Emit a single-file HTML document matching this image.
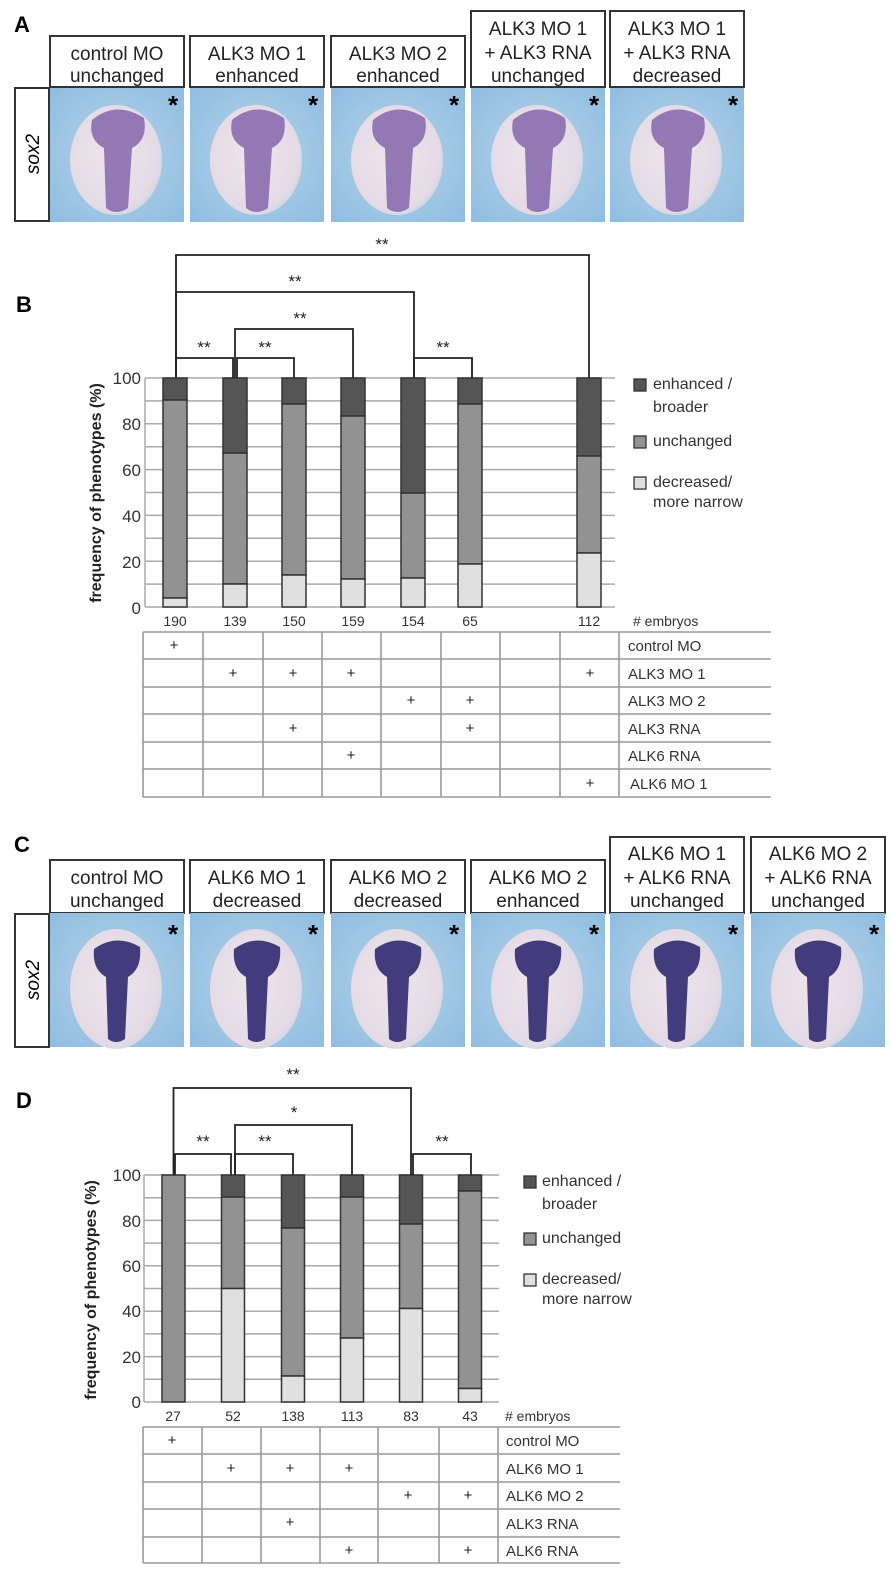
<!DOCTYPE html>
<html><head><meta charset="utf-8"><style>
html,body{margin:0;padding:0;background:#fff;}
svg{display:block;}
text{font-family:"Liberation Sans",Arial,sans-serif;}
</style></head><body>
<svg width="894" height="1580" viewBox="0 0 894 1580" xmlns="http://www.w3.org/2000/svg">
<defs>
<radialGradient id="bg" cx="0.5" cy="0.5" r="0.7">
<stop offset="0" stop-color="#b6d3ea"/><stop offset="1" stop-color="#8fbde0"/></radialGradient>
<radialGradient id="egg" cx="0.45" cy="0.45" r="0.6">
<stop offset="0" stop-color="#efe4ea"/><stop offset="0.85" stop-color="#e4dbe6"/><stop offset="1" stop-color="#cdd6e6"/></radialGradient>
<g id="embA">
<rect x="0" y="0" width="134" height="134" fill="url(#bg)"/>
<ellipse cx="66" cy="72" rx="46" ry="55" fill="url(#egg)"/>
<path d="M42 32 Q66 12 94 30 Q98 52 82 60 L78 120 Q66 128 56 120 L54 60 Q38 52 42 32Z" fill="#8466ab" opacity="0.85"/>
<text x="118" y="26" font-size="26" font-weight="bold" fill="#000">*</text>
</g>
<g id="embC">
<rect x="0" y="0" width="134" height="134" fill="url(#bg)"/>
<ellipse cx="66" cy="76" rx="46" ry="60" fill="url(#egg)"/>
<path d="M44 36 Q66 20 90 34 Q92 56 78 64 L75 126 Q66 132 58 126 L56 64 Q42 56 44 36Z" fill="#433c7c"/>
<text x="118" y="30" font-size="26" font-weight="bold" fill="#000">*</text>
</g>
</defs>

<!-- Panel A -->
<text x="14" y="32" font-size="22" font-weight="bold">A</text>
<g fill="#fff" stroke="#333" stroke-width="2">
<rect x="50" y="36" width="134" height="51"/>
<rect x="190" y="36" width="134" height="51"/>
<rect x="331" y="36" width="134" height="51"/>
<rect x="471" y="11" width="134" height="76"/>
<rect x="610" y="11" width="134" height="76"/>
<rect x="15" y="88" width="34" height="133"/>
</g>
<g font-size="19" text-anchor="middle" fill="#222">
<text x="117" y="60">control MO</text><text x="117" y="82">unchanged</text>
<text x="257" y="60">ALK3 MO 1</text><text x="257" y="82">enhanced</text>
<text x="398" y="60">ALK3 MO 2</text><text x="398" y="82">enhanced</text>
<text x="538" y="35">ALK3 MO 1</text><text x="538" y="59">+ ALK3 RNA</text><text x="538" y="82">unchanged</text>
<text x="677" y="35">ALK3 MO 1</text><text x="677" y="59">+ ALK3 RNA</text><text x="677" y="82">decreased</text>
</g>
<text transform="translate(39,154) rotate(-90)" font-size="19" font-style="italic" text-anchor="middle">sox2</text>
<use href="#embA" x="50" y="88"/>
<use href="#embA" x="190" y="88"/>
<use href="#embA" x="331" y="88"/>
<use href="#embA" x="471" y="88"/>
<use href="#embA" x="610" y="88"/>

<!-- Panel B -->
<text x="16" y="312" font-size="22" font-weight="bold">B</text>
<g stroke="#aaa" stroke-width="1.5">
<line x1="145" x2="615" y1="378" y2="378"/><line x1="145" x2="615" y1="400.9" y2="400.9"/>
<line x1="145" x2="615" y1="423.8" y2="423.8"/><line x1="145" x2="615" y1="446.7" y2="446.7"/>
<line x1="145" x2="615" y1="469.6" y2="469.6"/><line x1="145" x2="615" y1="492.5" y2="492.5"/>
<line x1="145" x2="615" y1="515.4" y2="515.4"/><line x1="145" x2="615" y1="538.3" y2="538.3"/>
<line x1="145" x2="615" y1="561.2" y2="561.2"/><line x1="145" x2="615" y1="584.1" y2="584.1"/>
<line x1="145" x2="615" y1="607" y2="607"/>
<line x1="145" x2="145" y1="378" y2="607"/>
</g>
<g font-size="17" text-anchor="end" fill="#333">
<text x="141" y="384">100</text><text x="141" y="430">80</text><text x="141" y="476">60</text>
<text x="141" y="522">40</text><text x="141" y="568">20</text><text x="141" y="614">0</text>
</g>
<text transform="translate(101,493) rotate(-90)" font-size="16" font-weight="bold" text-anchor="middle" fill="#222">frequency of phenotypes (%)</text>
<g stroke="#333" stroke-width="1.5">
<rect x="163" y="378" width="24" height="22" fill="#555"/>
<rect x="163" y="400" width="24" height="198" fill="#929292"/>
<rect x="163" y="598" width="24" height="9" fill="#e0e0e0"/>
<rect x="223" y="378" width="24" height="75" fill="#555"/>
<rect x="223" y="453" width="24" height="131" fill="#929292"/>
<rect x="223" y="584" width="24" height="23" fill="#e0e0e0"/>
<rect x="282" y="378" width="24" height="26" fill="#555"/>
<rect x="282" y="404" width="24" height="171" fill="#929292"/>
<rect x="282" y="575" width="24" height="32" fill="#e0e0e0"/>
<rect x="341" y="378" width="24" height="38" fill="#555"/>
<rect x="341" y="416" width="24" height="163" fill="#929292"/>
<rect x="341" y="579" width="24" height="28" fill="#e0e0e0"/>
<rect x="401" y="378" width="24" height="115" fill="#555"/>
<rect x="401" y="493" width="24" height="85" fill="#929292"/>
<rect x="401" y="578" width="24" height="29" fill="#e0e0e0"/>
<rect x="458" y="378" width="24" height="26" fill="#555"/>
<rect x="458" y="404" width="24" height="160" fill="#929292"/>
<rect x="458" y="564" width="24" height="43" fill="#e0e0e0"/>
<rect x="577" y="378" width="24" height="78" fill="#555"/>
<rect x="577" y="456" width="24" height="97" fill="#929292"/>
<rect x="577" y="553" width="24" height="54" fill="#e0e0e0"/>
</g>
<g fill="none" stroke="#222" stroke-width="1.8">
<polyline points="176,378 176,255 589,255 589,378"/>
<polyline points="176,378 176,292 414,292 414,378"/>
<polyline points="235,378 235,329 353,329 353,378"/>
<polyline points="176,378 176,358 233,358 233,378"/>
<polyline points="237,378 237,358 294,358 294,378"/>
<polyline points="414,378 414,358 472,358 472,378"/>
</g>
<g font-size="17" text-anchor="middle" fill="#222">
<text x="382" y="250">**</text><text x="295" y="287">**</text><text x="300" y="324">**</text>
<text x="204" y="353">**</text><text x="265" y="353">**</text><text x="443" y="353">**</text>
</g>
<g stroke="#333" stroke-width="1.3">
<rect x="634" y="379" width="12" height="12" fill="#555"/>
<rect x="634" y="436" width="12" height="12" fill="#929292"/>
<rect x="634" y="477" width="12" height="12" fill="#e0e0e0"/>
</g>
<g font-size="16" fill="#333">
<text x="653" y="389">enhanced /</text><text x="653" y="412">broader</text>
<text x="653" y="446">unchanged</text>
<text x="653" y="487">decreased/</text><text x="653" y="507">more narrow</text>
</g>
<g font-size="14" text-anchor="middle" fill="#333">
<text x="175" y="626">190</text><text x="235" y="626">139</text><text x="294" y="626">150</text>
<text x="353" y="626">159</text><text x="413" y="626">154</text><text x="470" y="626">65</text>
<text x="589" y="626">112</text>
</g>
<text x="633" y="626" font-size="14" fill="#333"># embryos</text>
<g stroke="#999" stroke-width="1.6">
<line x1="143" x2="771" y1="632" y2="632"/><line x1="143" x2="771" y1="659" y2="659"/>
<line x1="143" x2="771" y1="687" y2="687"/><line x1="143" x2="771" y1="714" y2="714"/>
<line x1="143" x2="771" y1="742" y2="742"/><line x1="143" x2="771" y1="769" y2="769"/>
<line x1="143" x2="771" y1="797" y2="797"/>
<line x1="143" x2="143" y1="632" y2="797"/><line x1="203" x2="203" y1="632" y2="797"/>
<line x1="263" x2="263" y1="632" y2="797"/><line x1="322" x2="322" y1="632" y2="797"/>
<line x1="381" x2="381" y1="632" y2="797"/><line x1="441" x2="441" y1="632" y2="797"/>
<line x1="500" x2="500" y1="632" y2="797"/><line x1="560" x2="560" y1="632" y2="797"/>
<line x1="619" x2="619" y1="632" y2="797"/>
</g>
<g font-size="15" text-anchor="middle" fill="#222">
<text x="174" y="650">+</text>
<text x="233" y="678">+</text><text x="293" y="678">+</text><text x="351" y="678">+</text><text x="590" y="678">+</text>
<text x="411" y="705">+</text><text x="470" y="705">+</text>
<text x="293" y="733">+</text><text x="470" y="733">+</text>
<text x="351" y="760">+</text>
<text x="590" y="788">+</text>
</g>
<g font-size="15" fill="#333">
<text x="628" y="651">control MO</text><text x="628" y="679">ALK3 MO 1</text>
<text x="628" y="706">ALK3 MO 2</text><text x="628" y="734">ALK3 RNA</text>
<text x="628" y="761">ALK6 RNA</text><text x="630" y="789">ALK6 MO 1</text>
</g>

<!-- Panel C -->
<text x="14" y="852" font-size="22" font-weight="bold">C</text>
<g fill="#fff" stroke="#333" stroke-width="2">
<rect x="50" y="860" width="134" height="53"/>
<rect x="190" y="860" width="134" height="53"/>
<rect x="331" y="860" width="134" height="53"/>
<rect x="471" y="860" width="134" height="53"/>
<rect x="610" y="837" width="134" height="76"/>
<rect x="751" y="837" width="134" height="76"/>
<rect x="15" y="914" width="34" height="133"/>
</g>
<g font-size="19" text-anchor="middle" fill="#222">
<text x="117" y="884">control MO</text><text x="117" y="907">unchanged</text>
<text x="257" y="884">ALK6 MO 1</text><text x="257" y="907">decreased</text>
<text x="398" y="884">ALK6 MO 2</text><text x="398" y="907">decreased</text>
<text x="538" y="884">ALK6 MO 2</text><text x="538" y="907">enhanced</text>
<text x="677" y="860">ALK6 MO 1</text><text x="677" y="884">+ ALK6 RNA</text><text x="677" y="907">unchanged</text>
<text x="818" y="860">ALK6 MO 2</text><text x="818" y="884">+ ALK6 RNA</text><text x="818" y="907">unchanged</text>
</g>
<text transform="translate(39,980) rotate(-90)" font-size="19" font-style="italic" text-anchor="middle">sox2</text>
<use href="#embC" x="50" y="913"/>
<use href="#embC" x="190" y="913"/>
<use href="#embC" x="331" y="913"/>
<use href="#embC" x="471" y="913"/>
<use href="#embC" x="610" y="913"/>
<use href="#embC" x="751" y="913"/>

<!-- Panel D -->
<text x="16" y="1108" font-size="22" font-weight="bold">D</text>
<g stroke="#aaa" stroke-width="1.5">
<line x1="144" x2="499" y1="1175" y2="1175"/><line x1="144" x2="499" y1="1197.7" y2="1197.7"/>
<line x1="144" x2="499" y1="1220.4" y2="1220.4"/><line x1="144" x2="499" y1="1243.1" y2="1243.1"/>
<line x1="144" x2="499" y1="1265.8" y2="1265.8"/><line x1="144" x2="499" y1="1288.5" y2="1288.5"/>
<line x1="144" x2="499" y1="1311.2" y2="1311.2"/><line x1="144" x2="499" y1="1333.9" y2="1333.9"/>
<line x1="144" x2="499" y1="1356.6" y2="1356.6"/><line x1="144" x2="499" y1="1379.3" y2="1379.3"/>
<line x1="144" x2="499" y1="1402" y2="1402"/>
<line x1="144" x2="144" y1="1175" y2="1402"/>
</g>
<g font-size="17" text-anchor="end" fill="#333">
<text x="141" y="1181">100</text><text x="141" y="1227">80</text><text x="141" y="1272">60</text>
<text x="141" y="1317">40</text><text x="141" y="1363">20</text><text x="141" y="1408">0</text>
</g>
<text transform="translate(96,1290) rotate(-90)" font-size="16" font-weight="bold" text-anchor="middle" fill="#222">frequency of phenotypes (%)</text>
<g stroke="#333" stroke-width="1.5">
<rect x="162" y="1175" width="23" height="227" fill="#929292"/>
<rect x="221.5" y="1175" width="23" height="22" fill="#555"/>
<rect x="221.5" y="1197" width="23" height="91.5" fill="#929292"/>
<rect x="221.5" y="1288.5" width="23" height="113.5" fill="#e0e0e0"/>
<rect x="281.5" y="1175" width="23" height="53" fill="#555"/>
<rect x="281.5" y="1228" width="23" height="148" fill="#929292"/>
<rect x="281.5" y="1376" width="23" height="26" fill="#e0e0e0"/>
<rect x="340.5" y="1175" width="23" height="22" fill="#555"/>
<rect x="340.5" y="1197" width="23" height="141" fill="#929292"/>
<rect x="340.5" y="1338" width="23" height="64" fill="#e0e0e0"/>
<rect x="399.5" y="1175" width="23" height="49" fill="#555"/>
<rect x="399.5" y="1224" width="23" height="84.5" fill="#929292"/>
<rect x="399.5" y="1308.5" width="23" height="93.5" fill="#e0e0e0"/>
<rect x="458.5" y="1175" width="23" height="16" fill="#555"/>
<rect x="458.5" y="1191" width="23" height="197.5" fill="#929292"/>
<rect x="458.5" y="1388.5" width="23" height="13.5" fill="#e0e0e0"/>
</g>
<g fill="none" stroke="#222" stroke-width="1.8">
<polyline points="173.5,1175 173.5,1088 411,1088 411,1175"/>
<polyline points="235,1175 235,1125 352,1125 352,1175"/>
<polyline points="175,1175 175,1154 231,1154 231,1175"/>
<polyline points="235,1175 235,1154 293,1154 293,1175"/>
<polyline points="413,1175 413,1154 471,1154 471,1175"/>
</g>
<g font-size="17" text-anchor="middle" fill="#222">
<text x="293" y="1080">**</text><text x="294" y="1118">*</text>
<text x="203" y="1147">**</text><text x="265" y="1147">**</text><text x="442" y="1147">**</text>
</g>
<g stroke="#333" stroke-width="1.3">
<rect x="524" y="1176" width="12" height="12" fill="#555"/>
<rect x="524" y="1233" width="12" height="12" fill="#929292"/>
<rect x="524" y="1274" width="12" height="12" fill="#e0e0e0"/>
</g>
<g font-size="16" fill="#333">
<text x="542" y="1186">enhanced /</text><text x="542" y="1209">broader</text>
<text x="542" y="1243">unchanged</text>
<text x="542" y="1284">decreased/</text><text x="542" y="1304">more narrow</text>
</g>
<g font-size="14" text-anchor="middle" fill="#333">
<text x="173" y="1421">27</text><text x="233" y="1421">52</text><text x="293" y="1421">138</text>
<text x="352" y="1421">113</text><text x="411" y="1421">83</text><text x="470" y="1421">43</text>
</g>
<text x="505" y="1421" font-size="14" fill="#333"># embryos</text>
<g stroke="#999" stroke-width="1.6">
<line x1="143" x2="620" y1="1427" y2="1427"/><line x1="143" x2="620" y1="1454" y2="1454"/>
<line x1="143" x2="620" y1="1482" y2="1482"/><line x1="143" x2="620" y1="1509" y2="1509"/>
<line x1="143" x2="620" y1="1537" y2="1537"/><line x1="143" x2="620" y1="1563" y2="1563"/>
<line x1="143" x2="143" y1="1427" y2="1563"/><line x1="202" x2="202" y1="1427" y2="1563"/>
<line x1="261" x2="261" y1="1427" y2="1563"/><line x1="320" x2="320" y1="1427" y2="1563"/>
<line x1="378" x2="378" y1="1427" y2="1563"/><line x1="439" x2="439" y1="1427" y2="1563"/>
<line x1="498" x2="498" y1="1427" y2="1563"/>
</g>
<g font-size="15" text-anchor="middle" fill="#222">
<text x="172" y="1445">+</text>
<text x="231" y="1473">+</text><text x="290" y="1473">+</text><text x="349" y="1473">+</text>
<text x="408" y="1500">+</text><text x="468" y="1500">+</text>
<text x="290" y="1527">+</text>
<text x="349" y="1555">+</text><text x="468" y="1555">+</text>
</g>
<g font-size="15" fill="#333">
<text x="506" y="1446">control MO</text><text x="506" y="1474">ALK6 MO 1</text>
<text x="506" y="1501">ALK6 MO 2</text><text x="506" y="1529">ALK3 RNA</text>
<text x="506" y="1556">ALK6 RNA</text>
</g>
</svg>
</body></html>
